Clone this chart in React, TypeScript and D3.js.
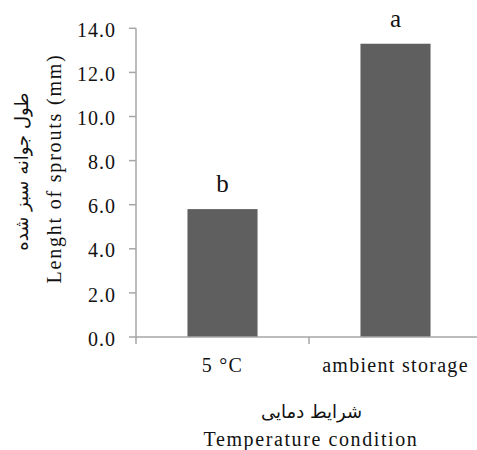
import React from "react";
import * as d3 from "d3";

// Sprout length per storage temperature (mm), with significance letters
const categories: string[] = ["5 °C", "ambient storage"];
const sproutLength: number[] = [5.8, 13.3];
const groupLetters: string[] = ["b", "a"];
const yTicks: number[] = [0, 2, 4, 6, 8, 10, 12, 14];

const W = 477;
const H = 450;
const plot = { left: 136, right: 482, top: 28.3, bottom: 337 };

const serif = "Liberation Serif, Times New Roman, serif";
const arabic = "DejaVu Sans, sans-serif";
const axisColor = "#a6a6a6";
const barColor = "#5f5f5f";
const textColor = "#111";

export default function App() {
  const y = d3.scaleLinear().domain([0, 14]).range([plot.bottom, plot.top]);
  const x = d3
    .scaleBand<string>()
    .domain(categories)
    .range([plot.left, plot.right])
    .paddingInner(0.595)
    .paddingOuter(0.2975);
  const step = x.step();
  const boundaries = d3.range(categories.length + 1).map((i) => plot.left + i * step);
  const fmt = d3.format(".1f");
  const midX = (plot.left + plot.right) / 2;

  return (
    <svg
      width={W}
      height={H}
      style={{ position: "absolute", left: 0, top: 0, background: "#fff" }}
    >
      {/* bars */}
      {categories.map((c, i) => (
        <rect
          key={c}
          x={x(c)}
          y={y(sproutLength[i])}
          width={x.bandwidth()}
          height={y(0) - y(sproutLength[i])}
          fill={barColor}
        />
      ))}

      {/* significance letters */}
      {categories.map((c, i) => (
        <text
          key={"l" + c}
          x={(x(c) as number) + x.bandwidth() / 2}
          y={y(sproutLength[i]) - 17}
          textAnchor="middle"
          fontFamily={serif}
          fontSize={25}
          fill={textColor}
        >
          {groupLetters[i]}
        </text>
      ))}

      {/* y axis */}
      <line x1={plot.left} x2={plot.left} y1={plot.top} y2={plot.bottom} stroke={axisColor} strokeWidth={1.5} />
      {yTicks.map((t) => (
        <g key={t}>
          <line x1={plot.left - 7} x2={plot.left} y1={y(t)} y2={y(t)} stroke={axisColor} strokeWidth={1.5} />
          <text
            x={plot.left - 20}
            y={y(t) + 8.6}
            textAnchor="end"
            fontFamily={serif}
            fontSize={20}
            letterSpacing={1}
            fill={textColor}
          >
            {fmt(t)}
          </text>
        </g>
      ))}

      {/* x axis */}
      <line x1={plot.left} x2={plot.right} y1={plot.bottom} y2={plot.bottom} stroke={axisColor} strokeWidth={1.5} />
      {boundaries.map((b, i) => (
        <line key={i} x1={b} x2={b} y1={plot.bottom} y2={plot.bottom + 7} stroke={axisColor} strokeWidth={1.5} />
      ))}
      {categories.map((c) => (
        <text
          key={"c" + c}
          x={(x(c) as number) + x.bandwidth() / 2}
          y={372}
          textAnchor="middle"
          fontFamily={serif}
          fontSize={20}
          letterSpacing={1.3}
          fill={textColor}
        >
          {c}
        </text>
      ))}

      {/* x axis titles */}
      <text x={midX + 2.5} y={418} textAnchor="middle" fontFamily={arabic} fontSize={18} fill={textColor} direction="rtl">
        شرایط دمایی
      </text>
      <text
        x={midX + 2}
        y={445.7}
        textAnchor="middle"
        fontFamily={serif}
        fontSize={20}
        letterSpacing={1.6}
        fill={textColor}
      >
        Temperature condition
      </text>

      {/* y axis titles */}
      <text
        transform={`translate(28,171.5) rotate(-90)`}
        textAnchor="middle"
        fontFamily={arabic}
        fontSize={18}
        fill={textColor}
        direction="rtl"
      >
        طول جوانه سبز شده
      </text>
      <text
        transform={`translate(60.5,168.5) rotate(-90)`}
        textAnchor="middle"
        fontFamily={serif}
        fontSize={20}
        letterSpacing={1.8}
        fill={textColor}
      >
        Lenght of sprouts (mm)
      </text>
    </svg>
  );
}
